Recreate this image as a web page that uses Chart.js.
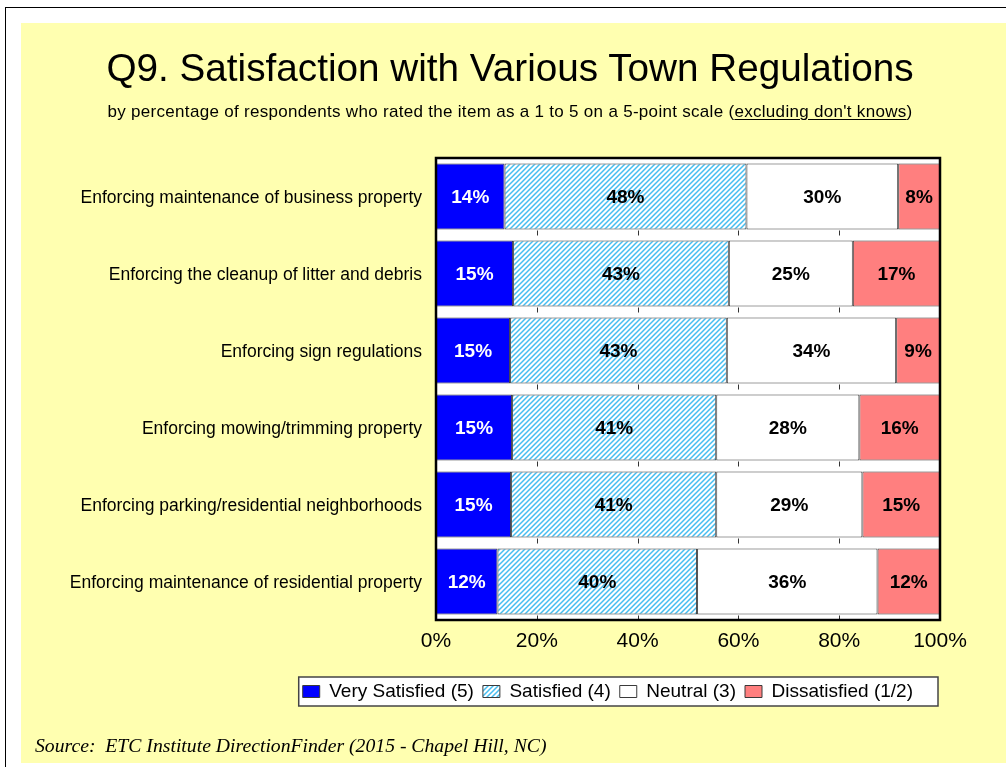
<!DOCTYPE html>
<html>
<head>
<meta charset="utf-8">
<script src="https://cdn.jsdelivr.net/npm/chart.js@4.4.0/dist/chart.umd.min.js"></script>
<style>
  body { margin: 0; background: #fff; width: 1006px; height: 767px; overflow: hidden; position: relative; font-family: Arial, 'Liberation Sans', sans-serif; }
  #frame { position: absolute; left: 5px; top: 7px; width: 1100px; height: 900px; border: 1px solid #000; }
  #panel { position: absolute; left: 21px; top: 23px; width: 985px; height: 740px; background: #FFFFB0; }
  #chart { position: absolute; left: 0; top: 0; }
  .title { position: absolute; left: 0; width: 978px; text-align: center; color: #000; white-space: nowrap; }
  #t1 { top: 22px; font-size: 38.7px; line-height: 46px; }
  #t2 { top: 79px; font-size: 17px; line-height: 20px; letter-spacing: 0.3px; }
  #t2 u { text-decoration-thickness: 1px; text-underline-offset: 2px; }
  #src { position: absolute; left: 14px; top: 711px; font: italic 19.7px/22px 'Liberation Serif', 'Times New Roman', serif; color: #000; white-space: pre; }
</style>
</head>
<body>
<div id="frame"></div>
<div id="panel">
  <canvas id="chart" width="985" height="740"></canvas>
  <div class="title" id="t1">Q9. Satisfaction with Various Town Regulations</div>
  <div class="title" id="t2">by percentage of respondents who rated the item as a 1 to 5 on a 5-point scale (<u>excluding don't knows</u>)</div>
  <div id="src">Source:  ETC Institute DirectionFinder (2015 - Chapel Hill, NC)</div>
</div>
<script>
// Data
const items = [
  'Enforcing maintenance of business property',
  'Enforcing the cleanup of litter and debris',
  'Enforcing sign regulations',
  'Enforcing mowing/trimming property',
  'Enforcing parking/residential neighborhoods',
  'Enforcing maintenance of residential property'
];
const seriesNames = ['Very Satisfied (5)', 'Satisfied (4)', 'Neutral (3)', 'Dissatisfied (1/2)'];
const verySatisfied = [13.6, 15.3, 14.7, 15.1, 14.9, 12.2];
const satisfied     = [48.0, 42.8, 43.0, 40.5, 40.7, 39.6];
const neutral       = [30.1, 24.6, 33.6, 28.4, 29.0, 35.8];
const dissatisfied  = [ 8.3, 17.3,  8.7, 16.0, 15.4, 12.4];
const xTicks = [0, 20, 40, 60, 80, 100];

const FONT = "Arial, 'Liberation Sans', sans-serif";

// diagonal hatch for "Satisfied"
function makeHatch() {
  const c = document.createElement('canvas');
  c.width = 5; c.height = 5;
  const g = c.getContext('2d');
  g.fillStyle = '#fff';
  g.fillRect(0, 0, 5, 5);
  g.strokeStyle = '#45bdf0';
  g.lineWidth = 1.5;
  g.beginPath();
  g.moveTo(-1, 1); g.lineTo(1, -1);
  g.moveTo(0, 5); g.lineTo(5, 0);
  g.moveTo(4, 6); g.lineTo(6, 4);
  g.stroke();
  return g.createPattern(c, 'repeat');
}
const hatch = makeHatch();

// white plot background, frame, little ticks under each bar
const plotFrame = {
  id: 'plotFrame',
  beforeDatasetsDraw(chart) {
    const { ctx, chartArea: a } = chart;
    ctx.save();
    ctx.fillStyle = '#fff';
    ctx.fillRect(a.left, a.top, a.width, a.height);
    ctx.restore();
  },
  afterDatasetsDraw(chart) {
    const { ctx, chartArea: a, scales } = chart;
    ctx.save();
    ctx.strokeStyle = '#333';
    ctx.lineWidth = 1;
    const meta = chart.getDatasetMeta(0);
    meta.data.forEach(bar => {
      const yb = Math.round(bar.y + bar.height / 2) + 0.5;
      xTicks.slice(1, -1).forEach(v => {
        const x = Math.round(scales.x.getPixelForValue(v)) + 0.5;
        ctx.beginPath();
        ctx.moveTo(x, yb);
        ctx.lineTo(x, yb + 5);
        ctx.stroke();
      });
    });
    ctx.strokeStyle = '#000';
    ctx.lineWidth = 2.5;
    ctx.strokeRect(a.left, a.top, a.width, a.height);
    ctx.restore();
  }
};

// percentage labels inside the segments
const segLabels = {
  id: 'segLabels',
  afterDatasetsDraw(chart) {
    const { ctx } = chart;
    ctx.save();
    ctx.font = 'bold 19px ' + FONT;
    ctx.textAlign = 'center';
    ctx.textBaseline = 'middle';
    chart.data.datasets.forEach((ds, i) => {
      chart.getDatasetMeta(i).data.forEach((bar, j) => {
        ctx.fillStyle = i === 0 ? '#fff' : '#000';
        ctx.fillText(Math.round(ds.data[j]) + '%', (bar.x + bar.base) / 2, bar.y + 1);
      });
    });
    ctx.restore();
  }
};

// white box with border behind the legend; legend nudged left a little
const legendBox = {
  id: 'legendBox',
  afterLayout(chart) {
    if (!chart.legend) return;
    chart.legend.left -= 18;
    chart.legend.right -= 18;
  },
  beforeDraw(chart) {
    const lg = chart.legend;
    if (!lg || !lg.legendHitBoxes.length) return;
    const hb = lg.legendHitBoxes;
    const left = Math.min(...hb.map(h => h.left)) - 4;
    const right = Math.max(...hb.map(h => h.left + h.width)) + 25;
    const cy = hb[0].top + hb[0].height / 2;
    const { ctx } = chart;
    ctx.save();
    ctx.fillStyle = '#fff';
    ctx.fillRect(left, cy - 14.5, right - left, 29);
    ctx.strokeStyle = '#444';
    ctx.lineWidth = 1.5;
    ctx.strokeRect(left, cy - 14.5, right - left, 29);
    ctx.restore();
  }
};

const colors = ['#0000ff', hatch, '#ffffff', '#ff7f7f'];
const values = [verySatisfied, satisfied, neutral, dissatisfied];

new Chart(document.getElementById('chart'), {
  type: 'bar',
  data: {
    labels: items,
    datasets: seriesNames.map((name, i) => ({
      label: name,
      data: values[i],
      backgroundColor: colors[i],
      borderColor: '#3a3a3a',
      borderWidth: 1,
      borderSkipped: false,
      barPercentage: 0.86,
      categoryPercentage: 1
    }))
  },
  options: {
    indexAxis: 'y',
    responsive: false,
    animation: false,
    devicePixelRatio: 1,
    layout: { padding: { left: 40, right: 66, top: 135, bottom: 52 } },
    scales: {
      x: {
        stacked: true,
        min: 0,
        max: 100,
        ticks: {
          stepSize: 20,
          padding: 1,
          color: '#000',
          font: { family: FONT, size: 21 },
          callback: v => v + '%'
        },
        grid: { display: false },
        border: { display: false },
        afterFit: s => { s.height = 53; }
      },
      y: {
        stacked: true,
        ticks: {
          color: '#000',
          padding: 6,
          labelOffset: 2,
          font: { family: FONT, size: 17.5 }
        },
        grid: { display: false },
        border: { display: false },
        afterFit: s => { s.width = 375; }
      }
    },
    plugins: {
      legend: {
        position: 'bottom',
        align: 'end',
        labels: {
          color: '#000',
          font: { family: FONT, size: 19 },
          boxWidth: 17,
          boxHeight: 12,
          padding: 9
        }
      },
      tooltip: { enabled: false }
    }
  },
  plugins: [plotFrame, segLabels, legendBox]
});
</script>
</body>
</html>
